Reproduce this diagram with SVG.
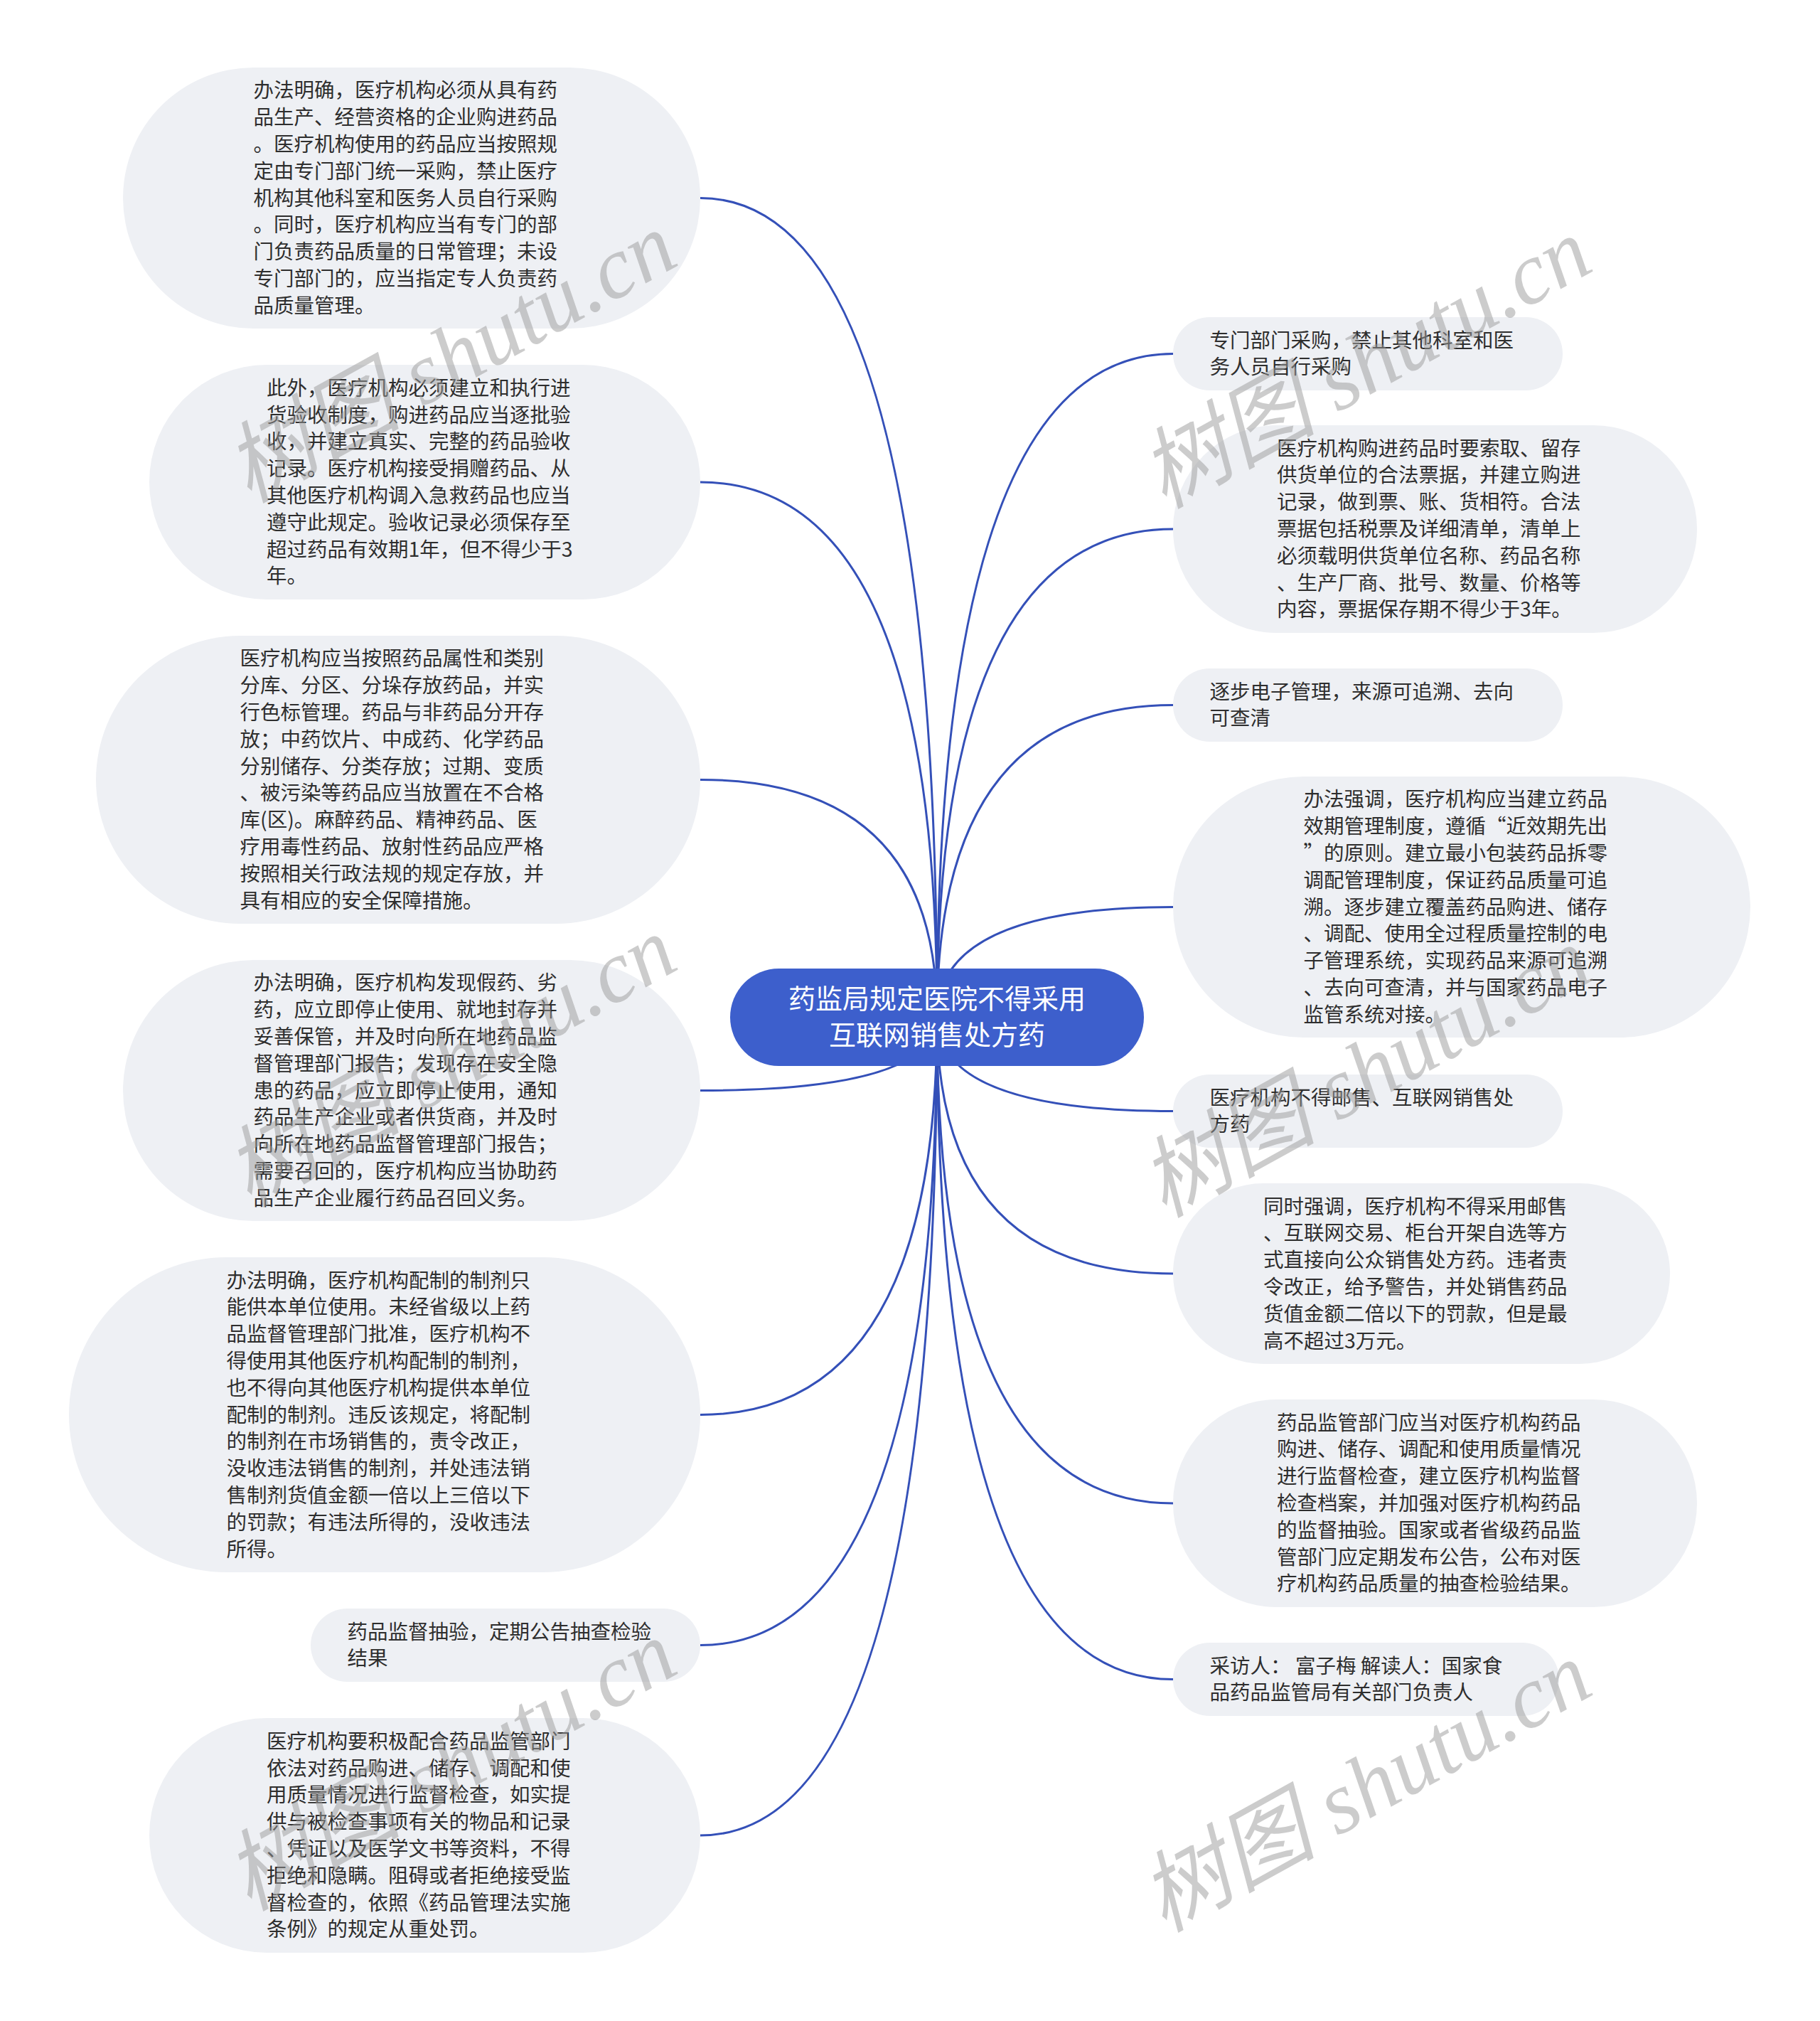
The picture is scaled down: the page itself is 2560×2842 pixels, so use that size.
<svg xmlns="http://www.w3.org/2000/svg" width="2560" height="2842" viewBox="0 0 2560 2842">
<style>
.node{fill:#eef0f4}
.t{font-family:"Noto Sans CJK SC","Noto Sans",sans-serif;font-size:28.5px;fill:#2e2e2e}
.ct{font-family:"Noto Sans CJK SC","Noto Sans",sans-serif;font-size:38px;fill:#fff;text-anchor:middle}
.c{fill:none;stroke:#3450b8;stroke-width:3}
.wm{font-family:"Liberation Serif","Noto Sans CJK SC",serif;font-style:italic;font-size:124px;fill:#9a9a9a;fill-opacity:0.5}
</style>
<rect width="2560" height="2842" fill="#fff"/>
<g id="connectors">
<path class="c" d="M1318 1430 Q1318 278.5 985 278.5"/>
<path class="c" d="M1318 1430 Q1318 678 985 678"/>
<path class="c" d="M1318 1430 Q1318 1096.5 985 1096.5"/>
<path class="c" d="M1318 1430 Q1318 1533.5 985 1533.5"/>
<path class="c" d="M1318 1430 Q1318 1989.5 985 1989.5"/>
<path class="c" d="M1318 1430 Q1318 2313.5 985 2313.5"/>
<path class="c" d="M1318 1430 Q1318 2581 985 2581"/>
<path class="c" d="M1318 1430 Q1318 497.5 1650 497.5"/>
<path class="c" d="M1318 1430 Q1318 744 1650 744"/>
<path class="c" d="M1318 1430 Q1318 991.5 1650 991.5"/>
<path class="c" d="M1318 1430 Q1318 1275.5 1650 1275.5"/>
<path class="c" d="M1318 1430 Q1318 1562.5 1650 1562.5"/>
<path class="c" d="M1318 1430 Q1318 1791 1650 1791"/>
<path class="c" d="M1318 1430 Q1318 2114 1650 2114"/>
<path class="c" d="M1318 1430 Q1318 2361.5 1650 2361.5"/>
</g>
<g id="center">
<rect x="1027" y="1362" width="582" height="137" rx="68.5" fill="#3d5fcc"/>
<text class="ct" x="1318" y="1418">药监局规定医院不得采用</text>
<text class="ct" x="1318" y="1469">互联网销售处方药</text>
</g>
<g id="L1">
<rect class="node" x="173" y="95" width="812" height="367" rx="183.5"/>
<text class="t" x="356.5" y="137.3"><tspan x="356.5">办法明确，医疗机构必须从具有药</tspan><tspan x="356.5" dy="37.8">品生产、经营资格的企业购进药品</tspan><tspan x="356.5" dy="37.8">。医疗机构使用的药品应当按照规</tspan><tspan x="356.5" dy="37.8">定由专门部门统一采购，禁止医疗</tspan><tspan x="356.5" dy="37.8">机构其他科室和医务人员自行采购</tspan><tspan x="356.5" dy="37.8">。同时，医疗机构应当有专门的部</tspan><tspan x="356.5" dy="37.8">门负责药品质量的日常管理；未设</tspan><tspan x="356.5" dy="37.8">专门部门的，应当指定专人负责药</tspan><tspan x="356.5" dy="37.8">品质量管理。</tspan></text>
</g>
<g id="L2">
<rect class="node" x="210" y="513" width="775" height="330" rx="165"/>
<text class="t" x="375" y="555.7"><tspan x="375">此外，医疗机构必须建立和执行进</tspan><tspan x="375" dy="37.8">货验收制度，购进药品应当逐批验</tspan><tspan x="375" dy="37.8">收，并建立真实、完整的药品验收</tspan><tspan x="375" dy="37.8">记录。医疗机构接受捐赠药品、从</tspan><tspan x="375" dy="37.8">其他医疗机构调入急救药品也应当</tspan><tspan x="375" dy="37.8">遵守此规定。验收记录必须保存至</tspan><tspan x="375" dy="37.8">超过药品有效期1年，但不得少于3</tspan><tspan x="375" dy="37.8">年。</tspan></text>
</g>
<g id="L3">
<rect class="node" x="135" y="894" width="850" height="405" rx="202.5"/>
<text class="t" x="337.5" y="936.4"><tspan x="337.5">医疗机构应当按照药品属性和类别</tspan><tspan x="337.5" dy="37.8">分库、分区、分垛存放药品，并实</tspan><tspan x="337.5" dy="37.8">行色标管理。药品与非药品分开存</tspan><tspan x="337.5" dy="37.8">放；中药饮片、中成药、化学药品</tspan><tspan x="337.5" dy="37.8">分别储存、分类存放；过期、变质</tspan><tspan x="337.5" dy="37.8">、被污染等药品应当放置在不合格</tspan><tspan x="337.5" dy="37.8">库(区)。麻醉药品、精神药品、医</tspan><tspan x="337.5" dy="37.8">疗用毒性药品、放射性药品应严格</tspan><tspan x="337.5" dy="37.8">按照相关行政法规的规定存放，并</tspan><tspan x="337.5" dy="37.8">具有相应的安全保障措施。</tspan></text>
</g>
<g id="L4">
<rect class="node" x="173" y="1350" width="812" height="367" rx="183.5"/>
<text class="t" x="356.5" y="1392.3"><tspan x="356.5">办法明确，医疗机构发现假药、劣</tspan><tspan x="356.5" dy="37.8">药，应立即停止使用、就地封存并</tspan><tspan x="356.5" dy="37.8">妥善保管，并及时向所在地药品监</tspan><tspan x="356.5" dy="37.8">督管理部门报告；发现存在安全隐</tspan><tspan x="356.5" dy="37.8">患的药品，应立即停止使用，通知</tspan><tspan x="356.5" dy="37.8">药品生产企业或者供货商，并及时</tspan><tspan x="356.5" dy="37.8">向所在地药品监督管理部门报告；</tspan><tspan x="356.5" dy="37.8">需要召回的，医疗机构应当协助药</tspan><tspan x="356.5" dy="37.8">品生产企业履行药品召回义务。</tspan></text>
</g>
<g id="L5">
<rect class="node" x="97" y="1768" width="888" height="443" rx="221.5"/>
<text class="t" x="318.5" y="1810.5"><tspan x="318.5">办法明确，医疗机构配制的制剂只</tspan><tspan x="318.5" dy="37.8">能供本单位使用。未经省级以上药</tspan><tspan x="318.5" dy="37.8">品监督管理部门批准，医疗机构不</tspan><tspan x="318.5" dy="37.8">得使用其他医疗机构配制的制剂，</tspan><tspan x="318.5" dy="37.8">也不得向其他医疗机构提供本单位</tspan><tspan x="318.5" dy="37.8">配制的制剂。违反该规定，将配制</tspan><tspan x="318.5" dy="37.8">的制剂在市场销售的，责令改正，</tspan><tspan x="318.5" dy="37.8">没收违法销售的制剂，并处违法销</tspan><tspan x="318.5" dy="37.8">售制剂货值金额一倍以上三倍以下</tspan><tspan x="318.5" dy="37.8">的罚款；有违法所得的，没收违法</tspan><tspan x="318.5" dy="37.8">所得。</tspan></text>
</g>
<g id="L6">
<rect class="node" x="437" y="2262" width="548" height="103" rx="51.5"/>
<text class="t" x="488.5" y="2304.6"><tspan x="488.5">药品监督抽验，定期公告抽查检验</tspan><tspan x="488.5" dy="37.8">结果</tspan></text>
</g>
<g id="L7">
<rect class="node" x="210" y="2416" width="775" height="330" rx="165"/>
<text class="t" x="375" y="2458.7"><tspan x="375">医疗机构要积极配合药品监管部门</tspan><tspan x="375" dy="37.8">依法对药品购进、储存、调配和使</tspan><tspan x="375" dy="37.8">用质量情况进行监督检查，如实提</tspan><tspan x="375" dy="37.8">供与被检查事项有关的物品和记录</tspan><tspan x="375" dy="37.8">、凭证以及医学文书等资料，不得</tspan><tspan x="375" dy="37.8">拒绝和隐瞒。阻碍或者拒绝接受监</tspan><tspan x="375" dy="37.8">督检查的，依照《药品管理法实施</tspan><tspan x="375" dy="37.8">条例》的规定从重处罚。</tspan></text>
</g>
<g id="R1">
<rect class="node" x="1650" y="446" width="548" height="103" rx="51.5"/>
<text class="t" x="1701.5" y="488.6"><tspan x="1701.5">专门部门采购，禁止其他科室和医</tspan><tspan x="1701.5" dy="37.8">务人员自行采购</tspan></text>
</g>
<g id="R2">
<rect class="node" x="1650" y="598" width="737" height="292" rx="146"/>
<text class="t" x="1796" y="640.6"><tspan x="1796">医疗机构购进药品时要索取、留存</tspan><tspan x="1796" dy="37.8">供货单位的合法票据，并建立购进</tspan><tspan x="1796" dy="37.8">记录，做到票、账、货相符。合法</tspan><tspan x="1796" dy="37.8">票据包括税票及详细清单，清单上</tspan><tspan x="1796" dy="37.8">必须载明供货单位名称、药品名称</tspan><tspan x="1796" dy="37.8">、生产厂商、批号、数量、价格等</tspan><tspan x="1796" dy="37.8">内容，票据保存期不得少于3年。</tspan></text>
</g>
<g id="R3">
<rect class="node" x="1650" y="940" width="548" height="103" rx="51.5"/>
<text class="t" x="1701.5" y="982.6"><tspan x="1701.5">逐步电子管理，来源可追溯、去向</tspan><tspan x="1701.5" dy="37.8">可查清</tspan></text>
</g>
<g id="R4">
<rect class="node" x="1650" y="1092" width="812" height="367" rx="183.5"/>
<text class="t" x="1833.5" y="1134.3"><tspan x="1833.5">办法强调，医疗机构应当建立药品</tspan><tspan x="1833.5" dy="37.8">效期管理制度，遵循“近效期先出</tspan><tspan x="1833.5" dy="37.8">”的原则。建立最小包装药品拆零</tspan><tspan x="1833.5" dy="37.8">调配管理制度，保证药品质量可追</tspan><tspan x="1833.5" dy="37.8">溯。逐步建立覆盖药品购进、储存</tspan><tspan x="1833.5" dy="37.8">、调配、使用全过程质量控制的电</tspan><tspan x="1833.5" dy="37.8">子管理系统，实现药品来源可追溯</tspan><tspan x="1833.5" dy="37.8">、去向可查清，并与国家药品电子</tspan><tspan x="1833.5" dy="37.8">监管系统对接。</tspan></text>
</g>
<g id="R5">
<rect class="node" x="1650" y="1511" width="548" height="103" rx="51.5"/>
<text class="t" x="1701.5" y="1553.6"><tspan x="1701.5">医疗机构不得邮售、互联网销售处</tspan><tspan x="1701.5" dy="37.8">方药</tspan></text>
</g>
<g id="R6">
<rect class="node" x="1650" y="1664" width="699" height="254" rx="127"/>
<text class="t" x="1777" y="1706.5"><tspan x="1777">同时强调，医疗机构不得采用邮售</tspan><tspan x="1777" dy="37.8">、互联网交易、柜台开架自选等方</tspan><tspan x="1777" dy="37.8">式直接向公众销售处方药。违者责</tspan><tspan x="1777" dy="37.8">令改正，给予警告，并处销售药品</tspan><tspan x="1777" dy="37.8">货值金额二倍以下的罚款，但是最</tspan><tspan x="1777" dy="37.8">高不超过3万元。</tspan></text>
</g>
<g id="R7">
<rect class="node" x="1650" y="1968" width="737" height="292" rx="146"/>
<text class="t" x="1796" y="2010.6"><tspan x="1796">药品监管部门应当对医疗机构药品</tspan><tspan x="1796" dy="37.8">购进、储存、调配和使用质量情况</tspan><tspan x="1796" dy="37.8">进行监督检查，建立医疗机构监督</tspan><tspan x="1796" dy="37.8">检查档案，并加强对医疗机构药品</tspan><tspan x="1796" dy="37.8">的监督抽验。国家或者省级药品监</tspan><tspan x="1796" dy="37.8">管部门应定期发布公告，公布对医</tspan><tspan x="1796" dy="37.8">疗机构药品质量的抽查检验结果。</tspan></text>
</g>
<g id="R8">
<rect class="node" x="1650" y="2310" width="543" height="103" rx="51.5"/>
<text class="t" x="1701.5" y="2352.6"><tspan x="1701.5">采访人： 富子梅 解读人：国家食</tspan><tspan x="1701.5" dy="37.8">品药品监管局有关部门负责人</tspan></text>
</g>
<g id="watermarks">
<text class="wm" transform="translate(350 708) rotate(-29)">树图 shutu.cn</text>
<text class="wm" transform="translate(350 1698) rotate(-29)">树图 shutu.cn</text>
<text class="wm" transform="translate(350 2688) rotate(-29)">树图 shutu.cn</text>
<text class="wm" transform="translate(1637 716) rotate(-29)">树图 shutu.cn</text>
<text class="wm" transform="translate(1637 1713) rotate(-29)">树图 shutu.cn</text>
<text class="wm" transform="translate(1637 2718) rotate(-29)">树图 shutu.cn</text>
</g>
</svg>
